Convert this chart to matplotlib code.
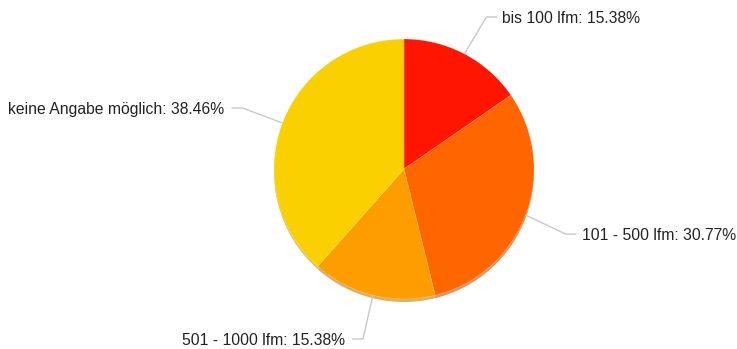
import numpy as np
import matplotlib.pyplot as plt

labels = ['bis 100 lfm', '101 - 500 lfm', '501 - 1000 lfm', 'keine Angabe möglich']
values = [15.38, 30.77, 15.38, 38.46]
colors = ['#FF1500', '#FF6600', '#FD9D00', '#FBD000']
shadow = ['#C41000', '#C44E00', '#C47A00', '#C4A200']

plt.rcParams['font.family'] = ['Liberation Sans', 'DejaVu Sans']

W, H = 737, 349
fig = plt.figure(figsize=(W / 100, H / 100), dpi=100)
ax = fig.add_axes([0, 0, 1, 1])

cx, cy, r = 404, H - 169, 130

# soft shadow under the pie
ax.pie(values, colors=shadow, startangle=90, counterclock=False,
       center=(cx, cy - 3), radius=r, frame=True,
       wedgeprops=dict(linewidth=0, alpha=0.6))
wedges, _ = ax.pie(values, colors=colors, startangle=90, counterclock=False,
                   center=(cx, cy), radius=r, frame=True,
                   wedgeprops=dict(linewidth=0.4, edgecolor='#ffffff55'))
ax.set_xlim(0, W)
ax.set_ylim(0, H)
ax.set_aspect('equal')
ax.axis('off')

# label layout: (elbow dx, elbow y, side)
layout = [(22, H - 17, 1), (40, H - 234, 1), (-10, H - 339, -1), (-40, H - 108, -1)]

for w, lab, v, (edx, ey, side) in zip(wedges, labels, values, layout):
    ang = np.deg2rad((w.theta1 + w.theta2) / 2)
    px, py = cx + r * np.cos(ang), cy + r * np.sin(ang)
    ex = px + edx
    hx = ex + side * 11
    ax.plot([px, ex, hx], [py, ey, ey], color='#c8c8c8', lw=1, solid_capstyle='butt')
    gap = 5 if side > 0 else 7
    ax.text(hx + side * gap, ey - 1.5, f'{lab}: {v:.2f}%', fontsize=11.3, color='#222222',
            ha='left' if side > 0 else 'right', va='center')

fig.savefig('out.png', dpi=100)
